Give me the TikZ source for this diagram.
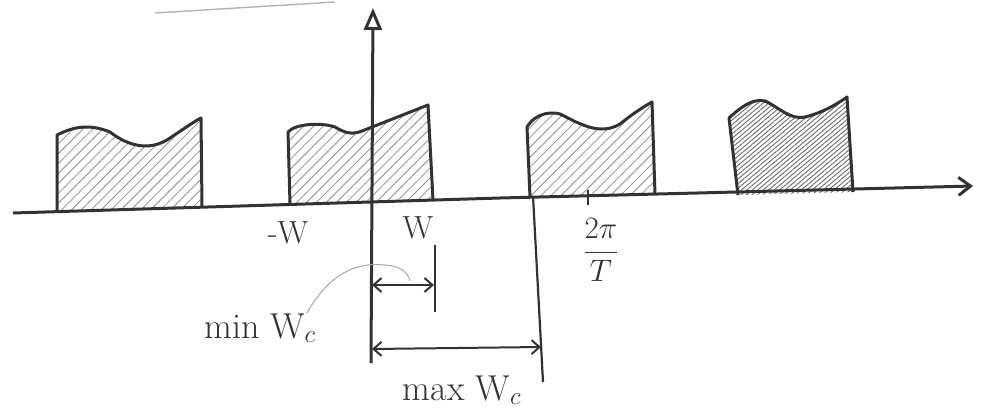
\documentclass[tikz,border=0pt]{standalone}
\usepackage{xcolor}
\usepackage{graphicx}
\usepackage{tikz}
\usetikzlibrary{arrows.meta, patterns.meta, calc}
\definecolor{pencil}{RGB}{50, 50, 50}
\definecolor{hatchgray}{RGB}{140, 140, 140}

\begin{document}
\begin{tikzpicture}[
  x=1pt, y=-1pt,
  every node/.style={font=\fontsize{32}{34}\selectfont, text=pencil, inner sep=1pt},
  edge/.style={draw=pencil, line width=3pt, line join=round},
  hatch/.style={pattern={Lines[angle=45, distance=7pt, line width=0.8pt]}, pattern color=hatchgray},
  dense/.style={pattern={Lines[angle=40, distance=3.5pt, line width=0.9pt]}, pattern color=hatchgray!75!black},
  axis/.style={draw=pencil, line width=3pt},
  dim/.style={{Straight Barb[length=8pt, width=14pt]}-{Straight Barb[length=8pt, width=14pt]}, draw=pencil, line width=2pt},
  guide/.style={draw=pencil, line width=2.2pt},
  leader/.style={draw=gray!70, line width=1pt}
]
  \useasboundingbox (0,0) rectangle (986,410);

  % Strich oben
  \coordinate (scratchl) at (155,13);
  \coordinate (scratchr) at (335,2);
  \draw[draw=gray!60, line width=1.4pt] (scratchl) -- (scratchr);

  % Spektren
  \path[hatch] (57,211) -- (57,135) .. controls (75,126) and (90,124) .. (110,132) .. controls (128,146) and (150,152) .. (170,138) .. controls (185,128) and (195,121) .. (201,118) -- (202,207) -- cycle;
  \draw[edge] (57,211) -- (57,135) .. controls (75,126) and (90,124) .. (110,132) .. controls (128,146) and (150,152) .. (170,138) .. controls (185,128) and (195,121) .. (201,118) -- (202,206);

  \path[hatch] (290,205) -- (288,132) .. controls (295,124) and (320,122) .. (335,127) .. controls (345,133) and (352,135) .. (362,131) -- (428,105) -- (433,201) -- cycle;
  \draw[edge] (290,204) -- (288,132) .. controls (295,124) and (320,122) .. (335,127) .. controls (345,133) and (352,135) .. (362,131) -- (428,105) -- (433,200);

  \path[hatch] (530,198) -- (527,127) .. controls (532,118) and (545,110) .. (560,114) .. controls (580,124) and (600,136) .. (620,124) .. controls (635,112) and (645,106) .. (652,102) -- (655,195) -- cycle;
  \draw[edge] (530,197) -- (527,127) .. controls (532,118) and (545,110) .. (560,114) .. controls (580,124) and (600,136) .. (620,124) .. controls (635,112) and (645,106) .. (652,102) -- (655,194);

  \path[dense] (738,195) -- (729,118) .. controls (740,108) and (752,98) .. (765,101) .. controls (780,108) and (790,120) .. (805,117) .. controls (825,112) and (840,102) .. (847,97) -- (853,192) -- cycle;
  \draw[edge] (738,195) -- (729,118) .. controls (740,108) and (752,98) .. (765,101) .. controls (780,108) and (790,120) .. (805,117) .. controls (825,112) and (840,102) .. (847,97) -- (853,192);

  % Achsen
  \coordinate (xstart) at (13,213);
  \coordinate (xmid) at (500,198);
  \coordinate (xend) at (973,186);
  \draw[axis, -{Straight Barb[length=12pt, width=18pt]}] (xstart) -- (xmid) -- (xend);
  \coordinate (ybot) at (371,363);
  \coordinate (ytop) at (373,8);
  \draw[axis, -{Triangle[open, length=22pt, width=18pt]}] (ybot) -- (ytop);

  \coordinate (tickb) at (588,205);
  \coordinate (tickt) at (588,190);
  \draw[guide] (tickb) -- (tickt);

  % Beschriftung
  \node (lblnegw) at (288,233) {-W};
  \node (lblw) at (418,228) {W};
  \node[font=\fontsize{24}{26}\selectfont] (lblfreq) at (601,250) {\scalebox{1.25}{$\displaystyle\frac{2\pi}{T}$}};
  \node[font=\fontsize{36}{38}\selectfont] (lblmin) at (260,328) {min W$_c$};
  \node[font=\fontsize{36}{38}\selectfont] (lblmax) at (462,390) {max W$_c$};

  % Abstaende
  \coordinate (wtop) at (435,245);
  \coordinate (wbot) at (435,312);
  \draw[guide] (wtop) -- (wbot);
  \coordinate (maxtop) at (533,196);
  \coordinate (maxbot) at (543,382);
  \draw[guide] (maxtop) -- (maxbot);

  \coordinate (minl) at (372,285);
  \coordinate (minr) at (434,285);
  \draw[dim] (minl) -- (minr);
  \coordinate (maxl) at (372,349);
  \coordinate (maxr) at (541,347);
  \draw[dim] (maxl) -- (maxr);

  \coordinate (leadstart) at (307,313);
  \coordinate (leadend) at (410,281);
  \draw[leader] (leadstart) .. controls (330,272) and (358,262) .. (385,265) .. controls (400,266) and (408,272) .. (leadend);

\end{tikzpicture}
\end{document}
